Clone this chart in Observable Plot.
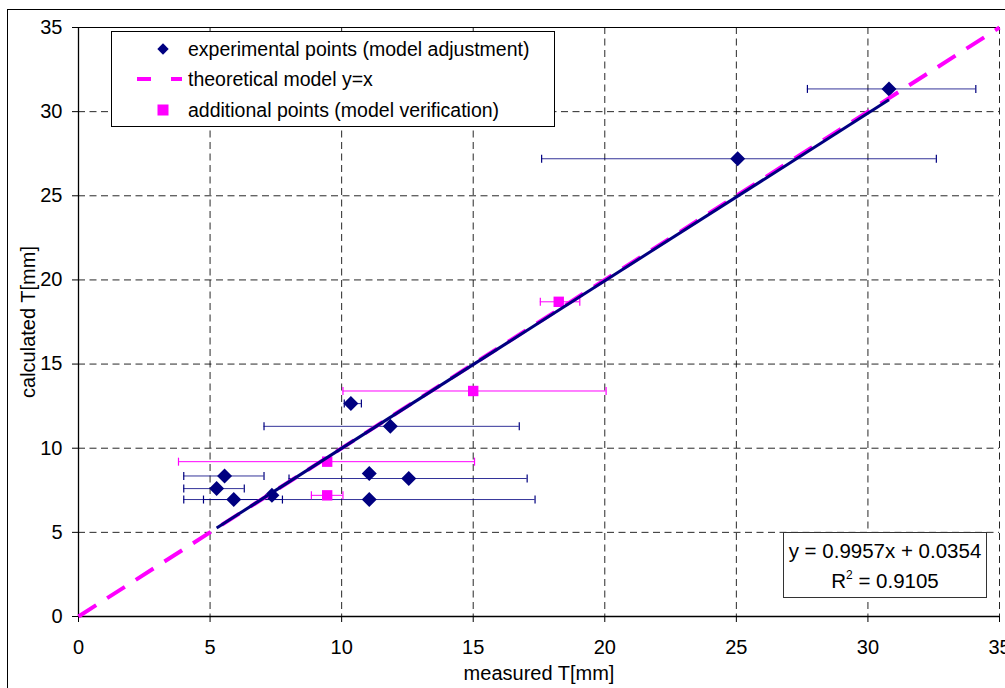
<!DOCTYPE html>
<html>
<head>
<meta charset="utf-8">
<script src="https://cdn.jsdelivr.net/npm/d3@7"></script>
<script src="https://cdn.jsdelivr.net/npm/@observablehq/plot@0.6"></script>
<style>
  html, body { margin: 0; padding: 0; background: #fff; overflow: hidden; }
  body { font-family: "Liberation Sans", Arial, sans-serif; color: #000; }
  #wrap { position: relative; width: 1005px; height: 688px; overflow: hidden; }
  #frame { position: absolute; left: 7px; top: 9px; width: 1100px; height: 800px; border: 1px solid #000; box-sizing: border-box; }
  #chart { position: absolute; left: 0; top: 0; }
  .box { position: absolute; background: #fff; box-sizing: border-box; }
  .row { position: absolute; left: 0; height: 20px; line-height: 20px; font-size: 19.5px; white-space: nowrap; }
  .row svg { position: absolute; left: 0; top: 0; overflow: visible; }
  .row span { position: absolute; left: 76px; top: 0; }
  .title { position: absolute; font-size: 20px; line-height: 20px; white-space: nowrap; text-align: center; }
</style>
</head>
<body>
<div id="wrap">
  <div id="frame"></div>
  <div id="chart"></div>
</div>
<script>
// ---- data ----
const xTicks = [0, 5, 10, 15, 20, 25, 30, 35];
const yTicks = [0, 5, 10, 15, 20, 25, 30, 35];

// experimental points (model adjustment)
const expX  = [30.8, 25.05, 10.35, 11.85, 5.55, 11.05, 12.55, 5.25, 5.9, 7.35, 11.05];
const expY  = [31.35, 27.2, 12.65, 11.3, 8.35, 8.5, 8.2, 7.6, 6.95, 7.2, 6.95];
const expLo = [27.7, 17.6, 10.1, 7.05, 4.0, null, 8.0, 4.0, 4.0, null, 4.75];
const expHi = [34.1, 32.6, 10.75, 16.75, 7.05, null, 17.05, 6.3, 7.75, null, 17.35];

// additional points (model verification)
const addX  = [15.0, 18.25, 9.45, 9.45];
const addY  = [13.4, 18.7, 9.2, 7.2];
const addLo = [10.05, 17.55, 3.8, 8.85];
const addHi = [20.05, 19.05, 15.05, 10.05];

// theoretical model y = x
const theoryX = [0, 35];

// linear trendline of experimental points
const slope = 0.9957;
const intercept = 0.0354;
const r2 = 0.9105;

const legendLabels = [
  "experimental points (model adjustment)",
  "theoretical model y=x",
  "additional points (model verification)"
];

const NAVY = "#000080";
const PINK = "#ff00ff";

// ---- build tables ----
const exp = expX.map((x, i) => ({x, y: expY[i], lo: expLo[i], hi: expHi[i]}));
const add = addX.map((x, i) => ({x, y: addY[i], lo: addLo[i], hi: addHi[i]}));
const expBars = exp.filter(d => d.lo != null);
const expCaps = expBars.flatMap(d => [{x: d.lo, y: d.y}, {x: d.hi, y: d.y}]);
const addCaps = add.flatMap(d => [{x: d.lo, y: d.y}, {x: d.hi, y: d.y}]);
const theory = theoryX.map(x => ({x, y: x}));
const regX = d3.extent(expX);
const reg = regX.map(x => ({x, y: slope * x + intercept}));

// custom symbols (r = half extent in px)
const capSym = {draw(ctx, size) { const r = Math.sqrt(size / Math.PI); ctx.moveTo(0, -r); ctx.lineTo(0, r); }};
const diamondSym = {draw(ctx, size) { const r = Math.sqrt(size / Math.PI); ctx.moveTo(0, -r); ctx.lineTo(r, 0); ctx.lineTo(0, r); ctx.lineTo(-r, 0); ctx.closePath(); }};
const squareSym = {draw(ctx, size) { const r = Math.sqrt(size / Math.PI); ctx.rect(-r, -r, 2 * r, 2 * r); }};

const gridStyle = {stroke: "#000", strokeOpacity: 0.85, strokeWidth: 1, strokeDasharray: "7,4.5"};

const chart = Plot.plot({
  width: 1005,
  height: 688,
  marginLeft: 78,
  marginRight: 6,
  marginTop: 27,
  marginBottom: 72,
  style: {fontFamily: "'Liberation Sans', Arial, sans-serif", fontSize: "20px", color: "#000", background: "transparent", overflow: "visible"},
  x: {domain: [0, 35]},
  y: {domain: [0, 35]},
  marks: [
    Plot.gridX(xTicks.slice(1), gridStyle),
    Plot.gridY(yTicks.slice(1, -1), gridStyle),
    Plot.ruleY([35], {stroke: "#000", strokeWidth: 1}),
    Plot.axisX(xTicks, {tickSize: 6, tickPadding: 17, fontSize: 20, label: null, stroke: "#000"}),
    Plot.axisY(yTicks, {tickSize: 6, tickPadding: 10, fontSize: 20, label: null, stroke: "#000"}),
    Plot.ruleX([0], {stroke: "#000", strokeWidth: 1.3}),
    Plot.ruleY([0], {stroke: "#000", strokeWidth: 1.3}),
    // error bars
    Plot.ruleY(expBars, {x1: "lo", x2: "hi", y: "y", stroke: NAVY, strokeWidth: 1, strokeOpacity: 0.8}),
    Plot.dot(expCaps, {x: "x", y: "y", symbol: capSym, r: 4, stroke: NAVY, strokeWidth: 1.2, fill: "none"}),
    Plot.ruleY(add, {x1: "lo", x2: "hi", y: "y", stroke: PINK, strokeWidth: 1}),
    Plot.dot(addCaps, {x: "x", y: "y", symbol: capSym, r: 4, stroke: PINK, strokeWidth: 1.2, fill: "none"}),
    // points
    Plot.dot(exp, {x: "x", y: "y", symbol: diamondSym, r: 7.5, fill: NAVY, stroke: "none"}),
    // theoretical model
    Plot.line(theory, {x: "x", y: "y", stroke: PINK, strokeWidth: 4, strokeDasharray: "21,13", strokeLinecap: "butt"}),
    Plot.dot(add, {x: "x", y: "y", symbol: squareSym, r: 5.2, fill: PINK, stroke: "none"}),
    // trendline
    Plot.line(reg, {x: "x", y: "y", stroke: NAVY, strokeWidth: 3, strokeLinecap: "butt"})
  ]
});
document.getElementById("chart").appendChild(chart);

// ---- overlays: legend, equation box, axis titles ----
const wrap = document.getElementById("wrap");

const legend = document.createElement("div");
legend.className = "box";
Object.assign(legend.style, {left: "111px", top: "31px", width: "444px", height: "96px", border: "1px solid #000"});
const swatches = [
  `<svg width="1" height="20"><path d="M51,4.3 L56.7,10 L51,15.7 L45.3,10 Z" fill="${NAVY}"/></svg>`,
  `<svg width="1" height="20"><line x1="25" x2="70" y1="10" y2="10" stroke="${PINK}" stroke-width="4" stroke-dasharray="14,20"/></svg>`,
  `<svg width="1" height="20"><rect x="45.5" y="4.5" width="11" height="11" fill="${PINK}"/></svg>`
];
const rowTops = [7.3, 37.3, 68.3];
legendLabels.forEach((lab, i) => {
  const row = document.createElement("div");
  row.className = "row";
  row.style.top = rowTops[i] + "px";
  row.innerHTML = swatches[i];
  const sp = document.createElement("span");
  sp.textContent = lab;
  row.appendChild(sp);
  legend.appendChild(row);
});
wrap.appendChild(legend);

const eq = document.createElement("div");
eq.className = "box";
Object.assign(eq.style, {left: "783px", top: "532px", width: "204px", height: "66px", border: "1px solid #333"});
const fmt = v => v.toFixed(4);
const l1 = document.createElement("div");
l1.className = "title";
Object.assign(l1.style, {left: "0", top: "8px", width: "202px", fontSize: "20.5px"});
l1.textContent = `y = ${fmt(slope)}x + ${fmt(intercept)}`;
const l2 = document.createElement("div");
l2.className = "title";
Object.assign(l2.style, {left: "0", top: "38px", width: "202px", fontSize: "20.5px"});
l2.innerHTML = `R<sup style="font-size:12px;vertical-align:9px;line-height:0">2</sup> = ${fmt(r2)}`;
eq.appendChild(l1); eq.appendChild(l2);
wrap.appendChild(eq);

const xt = document.createElement("div");
xt.className = "title";
Object.assign(xt.style, {left: "439px", top: "663px", width: "200px"});
xt.textContent = "measured T[mm]";
wrap.appendChild(xt);

const yt = document.createElement("div");
yt.className = "title";
Object.assign(yt.style, {left: (28.3 - 100) + "px", top: (322 - 10) + "px", width: "200px", transform: "rotate(-90deg)", transformOrigin: "50% 50%"});
yt.textContent = "calculated T[mm]";
wrap.appendChild(yt);
</script>
</body>
</html>
